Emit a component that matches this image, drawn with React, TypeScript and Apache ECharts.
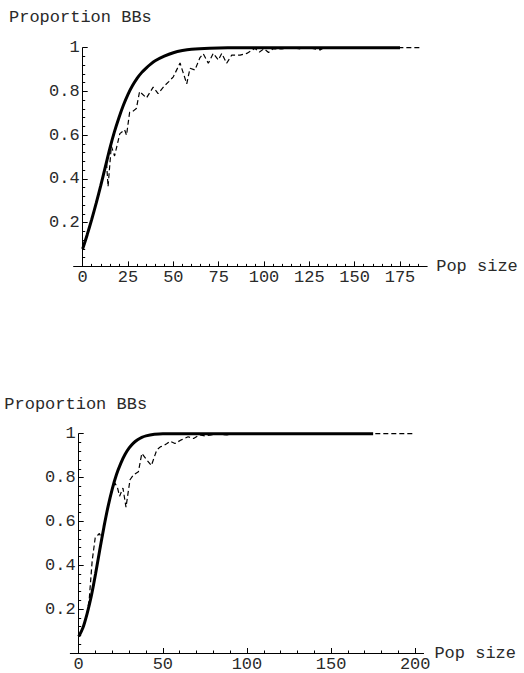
import React, { useEffect, useRef } from "react";
import * as echarts from "echarts";

// ---- Data ----
const topModel: [number, number][] = [
  [0, 0.08], [2.5, 0.145], [5, 0.215], [7.5, 0.29], [10, 0.37], [12.5, 0.455],
  [15, 0.54], [17.5, 0.615], [20, 0.68], [22.5, 0.738], [25, 0.787], [27.5, 0.827],
  [30, 0.86], [32.5, 0.886], [35, 0.907], [37.5, 0.925], [40, 0.94], [45, 0.961],
  [50, 0.977], [55, 0.987], [60, 0.993], [70, 0.998], [80, 1], [175, 1],
];
const topSim: [number, number][] = [
  [0, 0.08], [2.5, 0.145], [5, 0.215], [7.5, 0.29], [10, 0.37], [12.5, 0.455],
  [13.2, 0.47], [14, 0.365], [15.8, 0.55], [17.6, 0.505], [20.5, 0.607],
  [23.1, 0.625], [24.2, 0.6], [25.9, 0.705], [27.8, 0.71], [29.6, 0.722],
  [31.4, 0.8], [35.2, 0.77], [38.9, 0.82], [41.6, 0.79], [45, 0.825],
  [47.5, 0.845], [50, 0.867], [53.7, 0.93], [57.4, 0.835], [59.2, 0.906],
  [61.9, 0.898], [64.7, 0.955], [66.5, 0.972], [69.3, 0.929], [72, 0.974],
  [74.8, 0.944], [76.7, 0.974], [79.4, 0.929], [82.2, 0.966], [86.8, 0.966],
  [90.5, 0.974], [95, 0.997], [97.5, 0.98], [100, 0.995], [102.5, 0.978],
  [105, 0.995], [110, 0.995], [115, 1], [120, 0.995], [125, 1], [131, 0.99],
  [133, 1], [186, 1],
];
const bottomModel: [number, number][] = [
  [0, 0.075], [2.5, 0.115], [5, 0.18], [7.5, 0.26], [10, 0.36], [12.5, 0.47],
  [15, 0.575], [17.5, 0.67], [20, 0.75], [22.5, 0.815], [25, 0.865],
  [27.5, 0.905], [30, 0.935], [32.5, 0.957], [35, 0.972], [37.5, 0.983],
  [40, 0.99], [45, 0.997], [50, 1], [175, 1],
];
const bottomSim: [number, number][] = [
  [0, 0.075], [2.5, 0.115], [5, 0.18], [6.3, 0.25], [8, 0.42], [9.8, 0.525],
  [12.3, 0.545], [13.8, 0.52], [15, 0.575], [17.5, 0.67], [20, 0.75],
  [21.5, 0.775], [23, 0.755], [24.3, 0.715], [26.3, 0.752], [28.1, 0.665],
  [30.5, 0.79], [32.5, 0.812], [35.5, 0.827], [37.5, 0.91], [40, 0.885],
  [43.2, 0.855], [46.4, 0.926], [48.5, 0.94], [50.3, 0.945], [52.5, 0.955],
  [54.3, 0.966], [57.2, 0.955], [61, 0.972], [65, 0.986], [68.3, 0.978],
  [72, 0.995], [75, 0.99], [78, 0.993], [82, 1], [88, 0.994], [92, 1], [200, 1],
];

const topXTicks = [0, 25, 50, 75, 100, 125, 150, 175];
const topXMinor = [5, 10, 15, 20, 30, 35, 40, 45, 55, 60, 65, 70, 80, 85, 90, 95, 105, 110, 115, 120, 130, 135, 140, 145, 155, 160, 165, 170, 180, 185];
const bottomXTicks = [0, 50, 100, 150, 200];
const bottomXMinor = [10, 20, 30, 40, 60, 70, 80, 90, 110, 120, 130, 140, 160, 170, 180, 190];

const yTitle = "Proportion BBs";
const xTitle = "Pop size";

const FONT = "'Liberation Mono', 'DejaVu Sans Mono', monospace";
const TEXT = "#2a2a2a";

export default function App() {
  const ref = useRef<HTMLDivElement>(null);

  useEffect(() => {
    if (!ref.current) return;
    const chart = echarts.init(ref.current, null, { renderer: "svg" });

    const mkX = (grid: number, min: number, max: number, major: number[], minor: number[]) => [
      {
        type: "value", gridIndex: grid, min, max, position: "bottom",
        axisLine: { show: true, onZero: false, lineStyle: { color: "#000", width: 1 } },
        axisTick: { show: true, inside: true, length: 5, customValues: major, lineStyle: { color: "#000", width: 1 } },
        axisLabel: { show: true, customValues: major, margin: 3, color: TEXT, fontFamily: FONT, fontSize: 17 },
        splitLine: { show: false },
        name: xTitle, nameLocation: "end", nameGap: 9,
        nameTextStyle: { color: TEXT, fontFamily: FONT, fontSize: 17 },
      },
      {
        type: "value", gridIndex: grid, min, max, position: "bottom",
        axisLine: { show: false, onZero: false },
        axisTick: { show: true, inside: true, length: 2.5, customValues: minor, lineStyle: { color: "#000", width: 1 } },
        axisLabel: { show: false },
        splitLine: { show: false },
      },
    ];
    const mkY = (grid: number, offset: number) => ({
      type: "value", gridIndex: grid, min: 0, max: 1, interval: 0.2, position: "left", offset,
      axisLine: { show: true, onZero: false, lineStyle: { color: "#000", width: 1 } },
      axisTick: { show: true, inside: true, length: 5, lineStyle: { color: "#000", width: 1 } },
      minorTick: { show: true, splitNumber: 5, length: 2.5, lineStyle: { color: "#000", width: 1 } },
      axisLabel: {
        show: true, margin: 3, color: TEXT, fontFamily: FONT, fontSize: 17,
        formatter: (v: number) => (v === 0 ? "" : String(+v.toFixed(1))),
      },
      splitLine: { show: false },
    });

    const dashed = { color: "#000", width: 1.2, type: [5, 3] as number[] };
    const solid = { color: "#000", width: 3, cap: "butt" as const };

    chart.setOption({
      animation: false,
      backgroundColor: "#fff",
      grid: [
        { left: 73.6, top: 47.7, width: 353.6, height: 218.7, containLabel: false },
        { left: 70.3, top: 433.7, width: 353.3, height: 219.5, containLabel: false },
      ],
      xAxis: [
        ...mkX(0, -5, 190, topXTicks, topXMinor),
        ...mkX(1, -5, 205, bottomXTicks, bottomXMinor),
      ],
      yAxis: [mkY(0, -9.1), mkY(1, -8.4)],
      graphic: [
        { type: "text", x: 9, y: 17, style: { text: yTitle, font: `17px ${FONT}`, fill: TEXT, textVerticalAlign: "middle" } },
        { type: "text", x: 4.3, y: 404, style: { text: yTitle, font: `17px ${FONT}`, fill: TEXT, textVerticalAlign: "middle" } },
      ],
      series: [
        { type: "line", xAxisIndex: 0, yAxisIndex: 0, data: topSim, showSymbol: false, symbol: "none", lineStyle: dashed, clip: false, z: 2 },
        { type: "line", xAxisIndex: 0, yAxisIndex: 0, data: topModel, showSymbol: false, symbol: "none", smooth: 0.3, lineStyle: solid, clip: false, z: 3 },
        { type: "line", xAxisIndex: 2, yAxisIndex: 1, data: bottomSim, showSymbol: false, symbol: "none", lineStyle: dashed, clip: false, z: 2 },
        { type: "line", xAxisIndex: 2, yAxisIndex: 1, data: bottomModel, showSymbol: false, symbol: "none", smooth: 0.3, lineStyle: solid, clip: false, z: 3 },
      ],
    });

    return () => chart.dispose();
  }, []);

  return (
    <div
      ref={ref}
      style={{ position: "absolute", left: 0, top: 0, width: 524, height: 673, background: "#fff" }}
    />
  );
}
